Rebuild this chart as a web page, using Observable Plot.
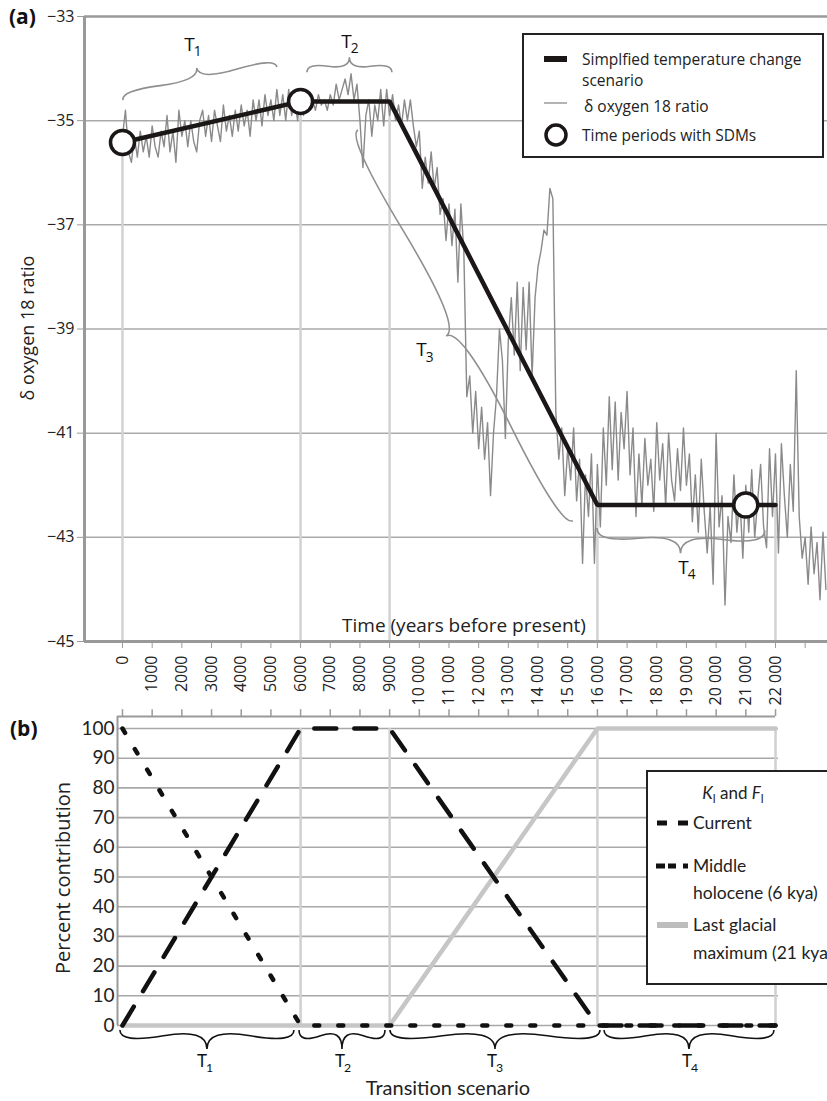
<!DOCTYPE html>
<html><head><meta charset="utf-8">
<script src="https://cdn.jsdelivr.net/npm/d3@7"></script>
<script src="https://cdn.jsdelivr.net/npm/@observablehq/plot@0.6"></script>
<style>
body{margin:0;background:#fff;}
#wrap{position:relative;width:827px;height:1101px;overflow:hidden;background:#fff;}
#a,#b{position:absolute;left:0;}
#a{top:0px;} #b{top:700px;}
svg{overflow:visible;}
</style></head><body><div id="wrap"><div id="a"></div><div id="b"></div></div>
<script>
// ---------------- DATA ----------------
// δ18O record [years before present, ratio]
const o18T1 = [
[0,-35.3],[100,-34.8],[200,-35.6],[300,-35.8],[400,-35.3],[500,-35.7],[600,-35.2],[700,-35.6],[800,-35.3],[900,-35.7],
[1000,-35.1],[1100,-35.5],[1200,-35.7],[1300,-35.2],[1400,-35.5],[1500,-34.9],[1600,-35.6],[1700,-35.2],[1800,-35.8],[1900,-34.8],
[2000,-35.3],[2100,-35.0],[2200,-35.5],[2300,-35.0],[2400,-35.4],[2500,-35.6],[2600,-35.0],[2700,-34.8],[2800,-35.3],[2900,-34.9],
[3000,-35.4],[3100,-34.8],[3200,-35.1],[3300,-35.4],[3400,-34.7],[3500,-35.2],[3600,-34.9],[3700,-35.3],[3800,-34.8],[3900,-35.2],
[4000,-34.7],[4100,-35.1],[4200,-34.8],[4300,-35.3],[4400,-34.6],[4500,-35.0],[4600,-34.6],[4700,-35.1],[4800,-34.5],[4900,-34.9],
[5000,-34.6],[5100,-35.0],[5200,-34.4],[5300,-34.9],[5400,-34.5],[5500,-35.0],[5600,-34.4],[5700,-34.9],[5800,-34.6],[5900,-35.0]
];
const o18T2 = [
[6000,-34.4],[6100,-34.9],[6200,-34.5],[6300,-34.8],[6400,-34.6],[6500,-34.8],[6600,-34.5],[6700,-34.7],[6800,-34.6],[6900,-34.8],
[7000,-34.5],[7100,-34.7],[7200,-34.3],[7300,-34.6],[7400,-34.4],[7500,-34.2],[7600,-34.5],[7700,-34.1],[7800,-34.6],[7900,-34.3],
[8000,-35.0],[8100,-35.9],[8200,-34.9],[8300,-34.6],[8400,-35.3],[8500,-34.7],[8600,-35.0],[8700,-34.4],[8800,-35.1],[8900,-34.4]
];
const o18T3 = [
[9000,-34.9],[9100,-34.5],[9200,-35.0],[9300,-34.7],[9400,-35.1],[9500,-34.6],[9600,-35.0],[9700,-34.6],[9800,-35.1],[9900,-35.5],
[10000,-35.2],[10100,-36.3],[10200,-35.7],[10300,-36.2],[10400,-35.6],[10500,-36.3],[10600,-35.9],[10700,-36.8],[10800,-36.5],[10900,-37.3],
[11000,-36.6],[11100,-37.4],[11200,-36.7],[11300,-38.1],[11400,-36.6],[11500,-37.5],[11600,-40.3],[11700,-39.9],[11800,-41.0],[11900,-40.2],
[12000,-41.3],[12100,-40.5],[12200,-41.5],[12300,-40.8],[12400,-42.2],[12500,-41.0],[12600,-40.3],[12700,-39.0],[12800,-39.6],[12900,-41.1],
[13000,-39.2],[13100,-38.4],[13200,-39.5],[13300,-38.1],[13400,-39.8],[13500,-38.2],[13600,-39.4],[13700,-38.1],[13800,-39.9],[13900,-38.4],
[14000,-37.8],[14100,-37.5],[14200,-37.1],[14300,-37.2],[14400,-36.3],[14500,-36.5],[14600,-40.6],[14700,-41.5],[14800,-40.9],[14900,-42.2],
[15000,-41.3],[15100,-41.9],[15200,-40.9],[15300,-42.3],[15400,-41.5],[15500,-43.5],[15600,-41.8],[15700,-42.6],[15800,-41.4],[15900,-43.5]
];
const o18T4 = [
[16000,-41.6],[16100,-42.8],[16200,-40.9],[16300,-42.0],[16400,-40.3],[16500,-41.7],[16600,-40.4],[16700,-41.9],[16800,-40.6],[16900,-41.3],
[17000,-40.2],[17100,-41.8],[17200,-40.9],[17300,-42.6],[17400,-41.4],[17500,-42.4],[17600,-41.1],[17700,-42.0],[17800,-41.5],[17900,-42.5],
[18000,-40.8],[18100,-41.9],[18200,-41.2],[18300,-42.4],[18400,-41.0],[18500,-41.9],[18600,-42.3],[18700,-41.3],[18800,-42.1],[18900,-40.9],
[19000,-42.0],[19100,-41.4],[19200,-42.7],[19300,-41.8],[19400,-42.9],[19500,-41.5],[19600,-42.5],[19700,-43.3],[19800,-42.4],[19900,-43.9],
[20000,-41.0],[20100,-42.8],[20200,-42.2],[20300,-44.3],[20400,-42.6],[20500,-43.1],[20600,-41.8],[20700,-42.9],[20800,-42.2],[20900,-43.4],
[21000,-42.0],[21100,-42.9],[21200,-41.7],[21300,-43.0],[21400,-42.3],[21500,-41.6],[21600,-42.8],[21700,-43.2],[21800,-41.3],[21900,-42.6],
[22000,-41.4],[22100,-43.3],[22200,-41.2],[22300,-42.2],[22400,-43.0],[22500,-41.6],[22600,-42.5],[22700,-39.8],[22800,-42.6],[22900,-43.4],
[23000,-43.0],[23100,-43.9],[23200,-42.8],[23300,-43.7],[23400,-43.1],[23500,-44.2],[23600,-42.9],[23700,-44.0]
];
// simplified temperature change scenario
const scenarioYears  = [0, 6000, 9000, 16000, 22000];
const scenarioValues = [-35.42, -34.63, -34.63, -42.38, -42.38];
// time periods with SDMs
const sdmYears  = [0, 6000, 21000];
const sdmValues = [-35.42, -34.63, -42.38];
// axis ticks, panel (a)
const yTicksA = [-45, -43, -41, -39, -37, -35, -33];
const xTickYears = [0,1000,2000,3000,4000,5000,6000,7000,8000,9000,10000,11000,12000,13000,14000,15000,16000,17000,18000,19000,20000,21000,22000,23000];
const xTickLabels = ["0","1000","2000","3000","4000","5000","6000","7000","8000","9000","10 000","11 000","12 000","13 000","14 000","15 000","16 000","17 000","18 000","19 000","20 000","21 000","22 000",""];
// transition periods (brace annotations), panel (a): [year1, value1, year2, value2]
const periodNames = ["1", "2", "3", "4"];
const bracesA = [[5221,-33.98, 34,-34.615],[9094,-34.08, 6231,-34.08],[7949,-35.19, 15191,-42.69],[16000,-42.83, 21658,-42.88]];
const labelsA = [[2392,-33.56],[7680,-33.5],[10206,-39.42],[19032,-43.6]];
// panel (b) percent contributions
const currentPts = [[0,100],[6000,0],[22000,0]];
const holocenePts = [[0,0],[6000,100],[9000,100],[16000,0],[22000,0]];
const lgmPts = [[0,0],[9000,0],[16000,100],[22000,100]];
const yTicksB = [0,10,20,30,40,50,60,70,80,90,100];
const vGridB = [6000, 9000, 16000, 22000];
const bracesB = [[-70,5794],[5963,8860],[9028,16103],[16238,21965]];
const labelsBx = [2796, 7445, 12566, 19134];

// ---------------- PANEL A ----------------
const o18 = o18T1.concat(o18T2, o18T3, o18T4);
const scen = scenarioYears.map((x,i)=>({x, y: scenarioValues[i]}));
const sdm = sdmYears.map((x,i)=>({x, y: sdmValues[i]}));
const xDomA = [-1280, 23753];
const labelMap = new Map(xTickYears.map((d,i)=>[d, xTickLabels[i]]));
const gridA = yTicksA.filter(d => d > -45 && d < -33);
const fontA = "'Open Sans', sans-serif";

const plotA = Plot.plot({
  width: 827, height: 712,
  marginLeft: 84, marginRight: 0, marginTop: 16, marginBottom: 71,
  style: {fontFamily: fontA, fontSize: "16px", background: "none", color: "#222"},
  x: {domain: xDomA},
  y: {domain: [-45, -33]},
  marks: [
    Plot.ruleY(gridA, {stroke: "#a9a9a9", strokeWidth: 1.5}),
    Plot.ruleY([-33], {stroke: "#9a9a9a", strokeWidth: 2.5}),
    Plot.ruleX(scen, {x: "x", y1: "y", y2: -45, stroke: "#d2d2d2", strokeWidth: 2.5}),
    Plot.line(o18, {x: d => d[0], y: d => d[1], stroke: "#8a8a8a", strokeWidth: 1.4}),
    Plot.line(scen, {x: "x", y: "y", stroke: "#1b1717", strokeWidth: 4.5, strokeLinejoin: "miter"}),
    Plot.dot(sdm, {x: "x", y: "y", r: 12, fill: "white", stroke: "#1b1717", strokeWidth: 3.5}),
    Plot.ruleX([xDomA[0]], {y1: -45, y2: -33, stroke: "#999", strokeWidth: 3}),
    Plot.ruleY([-45], {stroke: "#999", strokeWidth: 3}),
    Plot.axisY({ticks: yTicksA, tickSize: 7, tickPadding: 3, label: null, stroke: "#999", fill: "#222", fontSize: 16}),
    Plot.axisX({ticks: xTickYears, tickFormat: d => labelMap.get(d) ?? "", tickRotate: -90, tickSize: 7, tickPadding: 7, label: null, stroke: "#999", fill: "#222", fontSize: 16})
  ]
});
document.getElementById("a").appendChild(plotA);

function bracePath(x1,y1,x2,y2,w,q){
  let dx = x1-x2, dy = y1-y2;
  const len = Math.sqrt(dx*dx+dy*dy);
  dx /= len; dy /= len;
  const qx1 = x1 + q*w*dy, qy1 = y1 - q*w*dx;
  const qx2 = (x1 - .25*len*dx) + (1-q)*w*dy, qy2 = (y1 - .25*len*dy) - (1-q)*w*dx;
  const tx1 = (x1 - .5*len*dx) + w*dy, ty1 = (y1 - .5*len*dy) - w*dx;
  const qx3 = x2 + q*w*dy, qy3 = y2 - q*w*dx;
  const qx4 = (x1 - .75*len*dx) + (1-q)*w*dy, qy4 = (y1 - .75*len*dy) - (1-q)*w*dx;
  return `M ${x1} ${y1} Q ${qx1} ${qy1} ${qx2} ${qy2} T ${tx1} ${ty1} M ${x2} ${y2} Q ${qx3} ${qy3} ${qx4} ${qy4} T ${tx1} ${ty1}`;
}
function tLabel(g, x, y, n, fs, family){
  const t = g.append("text").attr("x", x).attr("y", y).attr("text-anchor","middle")
    .style("font-family", family).style("font-size", fs + "px").attr("fill","#111");
  t.append("tspan").text("T");
  t.append("tspan").style("font-size", (fs*0.72) + "px").attr("dy", fs*0.28).attr("dx", -1).text(n);
}
function addText(g, x, y, s, fs, family, anchor, extra){
  const t = g.append("text").attr("x", x).attr("y", y).attr("text-anchor", anchor)
    .style("font-family", family).style("font-size", fs + "px").attr("fill", "#222").text(s);
  if (extra) extra(t);
  return t;
}

{
  const sx = plotA.scale("x"), sy = plotA.scale("y");
  const svg = d3.select(plotA);
  const g = svg.append("g");
  const wA = [16, 15, 22, 24];
  bracesA.forEach((b,i)=>{
    g.append("path").attr("d", bracePath(sx.apply(b[0]), sy.apply(b[1]), sx.apply(b[2]), sy.apply(b[3]), wA[i], 0.6))
      .attr("fill","none").attr("stroke","#8f8f8f").attr("stroke-width", 1.6);
  });
  labelsA.forEach((p,i)=> tLabel(g, sx.apply(p[0]), sy.apply(p[1]) + 6, periodNames[i], 19, fontA));
  addText(g, 9, 24, "(a)", 21, fontA, "start", t => t.style("font-weight", "bold").attr("fill", "#111"));
  addText(g, 0, 0, "δ oxygen 18 ratio", 18, fontA, "middle", t => t.attr("transform", "translate(34,328) rotate(-90)"));
  addText(g, 464, 632, "Time (years before present)", 19, fontA, "middle");
  // legend
  const L = g.append("g");
  L.append("rect").attr("x",523).attr("y",34).attr("width",300).attr("height",123).attr("fill","white").attr("stroke","#222").attr("stroke-width",2);
  L.append("line").attr("x1",544).attr("x2",567).attr("y1",59).attr("y2",59).attr("stroke","#1b1717").attr("stroke-width",6);
  addText(L, 582, 65, "Simplfied temperature change", 15.5, fontA, "start");
  addText(L, 582, 86, "scenario", 15.5, fontA, "start");
  L.append("line").attr("x1",544).attr("x2",567).attr("y1",103).attr("y2",103).attr("stroke","#9a9a9a").attr("stroke-width",1.5);
  addText(L, 584, 112, "δ oxygen 18 ratio", 15.5, fontA, "start");
  L.append("circle").attr("cx",556).attr("cy",135).attr("r",10).attr("fill","white").attr("stroke","#1b1717").attr("stroke-width",3.5);
  addText(L, 582, 141, "Time periods with SDMs", 15.5, fontA, "start");
}

// ---------------- PANEL B ----------------
const xDomB = [-168, 22100];
const yTopB = 104.04;
const fontB = "Lato, 'Open Sans', sans-serif";
const tp = p => ({x: p[0], y: p[1]});
const plotB = Plot.plot({
  width: 827, height: 401,
  marginLeft: 117, marginRight: 49, marginTop: 16, marginBottom: 76,
  style: {fontFamily: fontB, fontSize: "19px", background: "none", color: "#222"},
  x: {domain: xDomB},
  y: {domain: [0, yTopB]},
  marks: [
    Plot.ruleY(yTicksB, {stroke: "#a8a8a8", strokeWidth: 1.6}),
    Plot.ruleX(vGridB, {y1: 0, y2: 100, stroke: "#d0d0d0", strokeWidth: 2.5}),
    Plot.ruleX([xDomB[0]], {y1: 0, y2: yTopB, stroke: "#9a9a9a", strokeWidth: 2}),
    Plot.ruleY([yTopB], {x1: xDomB[0], x2: 22000, stroke: "#9a9a9a", strokeWidth: 2}),
    Plot.ruleX(xTickYears.filter(d => d <= 22000), {y1: yTopB, y2: yTopB + 2.3, stroke: "#9a9a9a", strokeWidth: 1.5}),
    Plot.line(lgmPts.map(tp), {x: "x", y: "y", stroke: "#c6c6c6", strokeWidth: 4.5}),
    Plot.line(holocenePts.map(tp), {x: "x", y: "y", stroke: "#111", strokeWidth: 4.5, strokeDasharray: "22,18", strokeLinecap: "round"}),
    Plot.line(currentPts.map(tp), {x: "x", y: "y", stroke: "#111", strokeWidth: 4.5, strokeDasharray: "5,19"}),
    Plot.axisY({ticks: yTicksB, tickSize: 0, tickPadding: 3, label: null, fill: "#222", fontSize: 19}),
    Plot.axisX({ticks: [], label: null})
  ]
});
document.getElementById("b").appendChild(plotB);

{
  const sx = plotB.scale("x"), sy = plotB.scale("y");
  const svg = d3.select(plotB);
  const g = svg.append("g");
  const yb = sy.apply(-1.7);
  bracesB.forEach((b,i)=>{
    g.append("path").attr("d", bracePath(sx.apply(b[0]), yb, sx.apply(b[1]), yb, 19, 0.7))
      .attr("fill","none").attr("stroke","#111").attr("stroke-width", 1.6);
  });
  labelsBx.forEach((x,i)=> tLabel(g, sx.apply(x), sy.apply(-15.15) - 3, periodNames[i], 17, fontB));
  addText(g, 10, 36, "(b)", 21, fontA, "start", t => t.style("font-weight", "bold").attr("fill", "#111"));
  addText(g, 0, 0, "Percent contribution", 20, fontA, "middle", t => t.attr("transform", "translate(70,178) rotate(-90)"));
  addText(g, 448, 395, "Transition scenario", 20, fontB, "middle");
  // legend
  const L = g.append("g");
  L.append("rect").attr("x",647).attr("y",71).attr("width",200).attr("height",213).attr("fill","white").attr("stroke","#222").attr("stroke-width",2);
  const title = addText(L, 733, 99, "", 17, fontB, "middle");
  title.append("tspan").style("font-style","italic").text("K");
  title.append("tspan").style("font-size","12px").attr("dy",4).text("l");
  title.append("tspan").attr("dy",-4).text(" and ");
  title.append("tspan").style("font-style","italic").text("F");
  title.append("tspan").style("font-size","12px").attr("dy",4).text("l");
  L.append("line").attr("x1",657).attr("x2",688).attr("y1",123).attr("y2",123).attr("stroke","#111").attr("stroke-width",5).attr("stroke-dasharray","10,11");
  addText(L, 693, 129, "Current", 17.5, fontB, "start");
  L.append("line").attr("x1",656).attr("x2",676).attr("y1",166).attr("y2",166).attr("stroke","#111").attr("stroke-width",5).attr("stroke-dasharray","9,3");
  L.append("line").attr("x1",683).attr("x2",688).attr("y1",166).attr("y2",166).attr("stroke","#111").attr("stroke-width",5);
  addText(L, 693, 172, "Middle", 17.5, fontB, "start");
  addText(L, 693, 199, "holocene (6 kya)", 17.5, fontB, "start");
  L.append("line").attr("x1",657).attr("x2",688).attr("y1",225).attr("y2",225).attr("stroke","#bdbdbd").attr("stroke-width",6);
  addText(L, 693, 231, "Last glacial", 17.5, fontB, "start");
  addText(L, 693, 259, "maximum (21 kya)", 17.5, fontB, "start");
}
</script></body></html>
